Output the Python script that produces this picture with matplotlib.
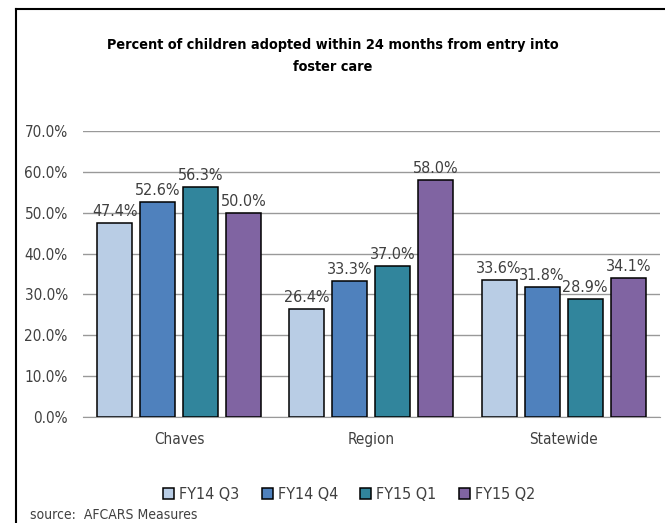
import matplotlib.pyplot as plt
from matplotlib.lines import Line2D
import numpy as np

# data
categories = ["Chaves", "Region", "Statewide"]
series = ["FY14 Q3", "FY14 Q4", "FY15 Q1", "FY15 Q2"]
fy14_q3 = [47.4, 26.4, 33.6]
fy14_q4 = [52.6, 33.3, 31.8]
fy15_q1 = [56.3, 37.0, 28.9]
fy15_q2 = [50.0, 58.0, 34.1]
yticks = [0, 10, 20, 30, 40, 50, 60, 70]

colors = ["#B9CDE5", "#4F81BD", "#31859C", "#8064A2"]
narrow = dict(family="DejaVu Sans", stretch="condensed")

fig = plt.figure(figsize=(6.65, 5.23), dpi=100)
ax = fig.add_axes([0.125, 0.2027, 0.867, 0.5468])

x = np.arange(len(categories))
width = 0.182
step = 0.224
values = [fy14_q3, fy14_q4, fy15_q1, fy15_q2]
for i, (name, vals) in enumerate(zip(series, values)):
    pos = x + (i - 1.5) * step
    bars = ax.bar(pos, vals, width, color=colors[i], edgecolor="black",
                  linewidth=1.1, label=name, zorder=3)
    for b, v in zip(bars, vals):
        ax.text(b.get_x() + b.get_width() / 2, v + 1.0, f"{v:.1f}%",
                ha="center", va="bottom", fontsize=11.5, color="#404040",
                zorder=4, **narrow)

ax.set_xlim(-0.5, 2.5)
ax.set_ylim(0, 70)
ax.set_yticks(yticks)
ax.set_yticklabels([f"{t:.1f}%" for t in yticks], fontsize=11,
                   color="#404040", **narrow)
ax.set_xticks(x)
ax.set_xticklabels(categories, fontsize=11, color="#404040", **narrow)
ax.tick_params(axis="y", length=0, pad=11)
ax.tick_params(axis="x", length=0, pad=11)
ax.grid(axis="y", color="#999999", linewidth=1, zorder=0)
for s in ["left", "right", "top"]:
    ax.spines[s].set_visible(False)
ax.spines["bottom"].set_color("#999999")

fig.text(0.5, 0.893, "Percent of children adopted within 24 months from entry into\nfoster care",
         ha="center", va="center", fontsize=10.4, fontweight="bold",
         linespacing=1.8, **narrow)

leg = fig.legend(loc="center", bbox_to_anchor=(0.525, 0.054), ncol=4,
                 frameon=False, prop={"family": "DejaVu Sans", "stretch": "condensed", "size": 11.5},
                 handlelength=0.7, handleheight=0.7, handletextpad=0.3,
                 columnspacing=1.4)
for t in leg.get_texts():
    t.set_color("#404040")

fig.text(0.045, 0.002, "source:  AFCARS Measures", fontsize=10,
         color="#404040", ha="left", va="bottom", **narrow)

# outer frame
fig.add_artist(Line2D([0.024, 0.024], [0, 0.983], transform=fig.transFigure,
                      color="black", linewidth=1.5))
fig.add_artist(Line2D([0.024, 1], [0.983, 0.983], transform=fig.transFigure,
                      color="black", linewidth=1.5))

fig.savefig("out.png", dpi=100)
